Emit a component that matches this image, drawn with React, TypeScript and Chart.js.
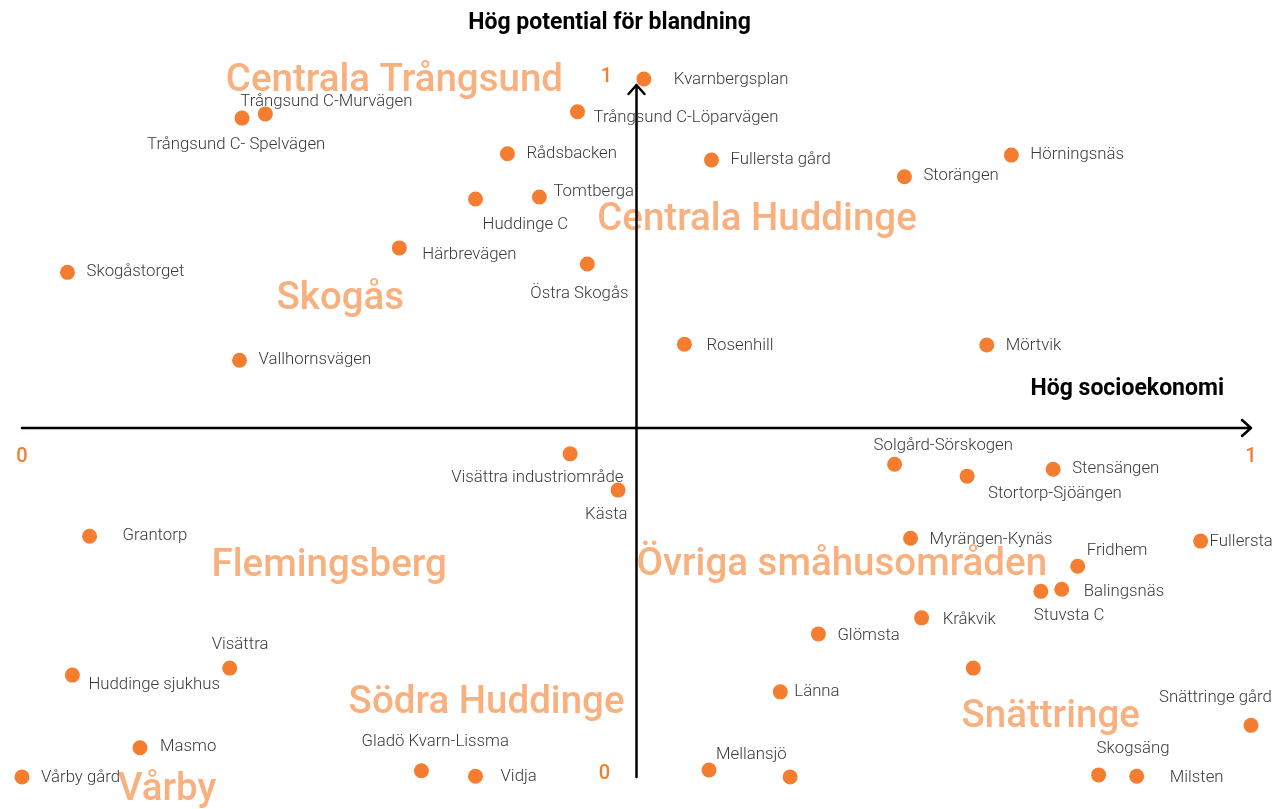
import React, { useEffect, useRef } from "react";
import { Chart, registerables } from "chart.js";

Chart.register(...registerables);

// Socioeconomic index (x) and mixing potential (y), both 0..1
const names = [
  "Trångsund C- Spelvägen", "Trångsund C-Murvägen", "Trångsund C-Löparvägen", "Rådsbacken",
  "Tomtberga", "Huddinge C", "Härbrevägen", "Östra Skogås", "Skogåstorget", "Vallhornsvägen",
  "Kvarnbergsplan", "Fullersta gård", "Storängen", "Hörningsnäs", "Rosenhill", "Mörtvik",
  "Visättra industriområde", "Kästa", "Grantorp", "Visättra", "Huddinge sjukhus", "Masmo",
  "Vårby gård", "Gladö Kvarn-Lissma", "Vidja", "Solgård-Sörskogen", "Stortorp-Sjöängen",
  "Stensängen", "Myrängen-Kynäs", "Fridhem", "Fullersta", "Balingsnäs", "Stuvsta C",
  "Kråkvik", "Glömsta", "", "Länna", "Snättringe gård", "Skogsäng", "Milsten", "Mellansjö", "",
];
const socioeconomy = [
  0.179, 0.198, 0.452, 0.395, 0.421, 0.369, 0.307, 0.460, 0.037, 0.177,
  0.506, 0.561, 0.718, 0.805, 0.539, 0.785,
  0.446, 0.485, 0.055, 0.169, 0.041, 0.096, 0.0, 0.325, 0.369,
  0.710, 0.769, 0.839, 0.723, 0.859, 0.959, 0.846, 0.829,
  0.732, 0.648, 0.774, 0.617, 1.0, 0.876, 0.907, 0.559, 0.625,
];
const mixing = [
  0.944, 0.950, 0.953, 0.893, 0.831, 0.828, 0.758, 0.735, 0.723, 0.597,
  1.0, 0.884, 0.860, 0.891, 0.620, 0.619,
  0.463, 0.411, 0.345, 0.156, 0.146, 0.042, 0.0, 0.009, 0.001,
  0.448, 0.431, 0.441, 0.342, 0.302, 0.338, 0.269, 0.266,
  0.228, 0.205, 0.156, 0.122, 0.074, 0.003, 0.001, 0.010, 0.0,
];

// Area names with their approximate centre in data space
const areaNames = [
  "Centrala Trångsund", "Centrala Huddinge", "Skogås", "Flemingsberg",
  "Övriga småhusområden", "Södra Huddinge", "Snättringe", "Vårby",
];
const areaX = [0.303, 0.598, 0.259, 0.250, 0.667, 0.378, 0.837, 0.118];
const areaY = [0.997, 0.797, 0.684, 0.302, 0.303, 0.106, 0.085, -0.019];

const axisTicks = ["0", "1"];
const xTitle = "Hög socioekonomi";
const yTitle = "Hög potential för blandning";

// label placement relative to the dot: [dx, dy] in px, left-aligned text
const labelOffsets: [number, number][] = [
  [-95, 25], [-25, -14], [16, 4], [19, -1], [14, -7], [7, 24], [23, 5], [-57, 28], [19, -2], [19, -2],
  [30, -1], [19, -2], [19, -2], [19, -2], [22, 0], [19, -1],
  [-119, 22], [-33, 23], [33, -2], [-18, -25], [16, 8], [20, -2], [19, -1], [-60, -30], [25, -1],
  [-21, -20], [21, 16], [19, -2], [19, 0], [9, -17], [9, -1], [22, 1], [-7, 23],
  [21, 0], [19, 0], [0, 0], [14, -2], [-92, -29], [-2, -28], [33, 0], [7, -17], [0, 0],
];

const DOT = "#F47D30";
const AREA = "#F9B07F";
const TICK = "#F07F2E";

const overlay = {
  id: "overlay",
  beforeDatasetsDraw(chart: any) {
    const { ctx, scales } = chart;
    const xs = scales.x, ys = scales.y;
    ctx.save();
    // area names
    ctx.fillStyle = AREA;
    ctx.font = "500 38.5px 'Roboto'";
    ctx.textAlign = "center";
    ctx.textBaseline = "middle";
    areaNames.forEach((n, i) => {
      ctx.fillText(n, xs.getPixelForValue(areaX[i]), ys.getPixelForValue(areaY[i]));
    });
    // axes
    const x0 = xs.getPixelForValue(0), x1 = xs.getPixelForValue(1);
    const y0 = ys.getPixelForValue(0), y1 = ys.getPixelForValue(1);
    const xm = xs.getPixelForValue(0.5), ym = ys.getPixelForValue(0.5);
    ctx.strokeStyle = "#000";
    ctx.lineWidth = 2.5;
    ctx.lineCap = "round";
    ctx.lineJoin = "round";
    ctx.beginPath();
    ctx.moveTo(x0, ym);
    ctx.lineTo(x1, ym);
    ctx.moveTo(x1 - 9, ym - 8);
    ctx.lineTo(x1, ym);
    ctx.lineTo(x1 - 9, ym + 8);
    ctx.moveTo(xm, y0);
    ctx.lineTo(xm, y1 + 6);
    ctx.moveTo(xm - 8, y1 + 15);
    ctx.lineTo(xm, y1 + 6);
    ctx.lineTo(xm + 8, y1 + 15);
    ctx.stroke();
    // ticks
    ctx.fillStyle = TICK;
    ctx.font = "500 20px 'Roboto'";
    ctx.textAlign = "center";
    ctx.fillText(axisTicks[0], x0, ym + 29);
    ctx.fillText(axisTicks[1], x1, ym + 29);
    ctx.fillText(axisTicks[1], xm - 30, y1 - 2);
    ctx.fillText(axisTicks[0], xm - 32, y0 - 3);
    // titles
    ctx.fillStyle = "#000";
    ctx.font = "bold 23px 'Roboto'";
    ctx.textAlign = "center";
    ctx.fillText(yTitle, xm - 27, 23);
    ctx.textAlign = "right";
    ctx.fillText(xTitle, x1 - 27, ym - 39);
    ctx.restore();
  },
  afterDatasetsDraw(chart: any) {
    const { ctx } = chart;
    const meta = chart.getDatasetMeta(0);
    ctx.save();
    ctx.fillStyle = "#3a3a3a";
    ctx.font = "300 16.8px 'Roboto'";
    ctx.textAlign = "left";
    ctx.textBaseline = "middle";
    meta.data.forEach((pt: any, i: number) => {
      const n = names[i];
      if (!n) return;
      const [dx, dy] = labelOffsets[i];
      ctx.fillText(n, pt.x + dx, pt.y + dy + 1.5);
    });
    ctx.restore();
  },
};

export default function App() {
  const ref = useRef<HTMLCanvasElement>(null);
  useEffect(() => {
    if (!ref.current) return;
    const chart = new Chart(ref.current, {
      type: "scatter",
      data: {
        datasets: [
          {
            label: "Områden",
            data: socioeconomy.map((x, i) => ({ x, y: mixing[i] })),
            backgroundColor: DOT,
            borderWidth: 0,
            pointRadius: 7.5,
            pointHoverRadius: 7.5,
            clip: false as any,
          },
        ],
      },
      options: {
        responsive: false,
        animation: false,
        layout: { padding: { left: 22, right: 23, top: 79, bottom: 32 } },
        plugins: { legend: { display: false }, tooltip: { enabled: false } },
        scales: {
          x: { type: "linear", min: 0, max: 1, display: false },
          y: { type: "linear", min: 0, max: 1, display: false },
        },
      },
      plugins: [overlay],
    });
    return () => chart.destroy();
  }, []);
  return (
    <div style={{ position: "fixed", left: 0, top: 0, width: 1274, height: 809, background: "#fff" }}>
      <canvas ref={ref} width={1274} height={809} style={{ display: "block" }} />
    </div>
  );
}
